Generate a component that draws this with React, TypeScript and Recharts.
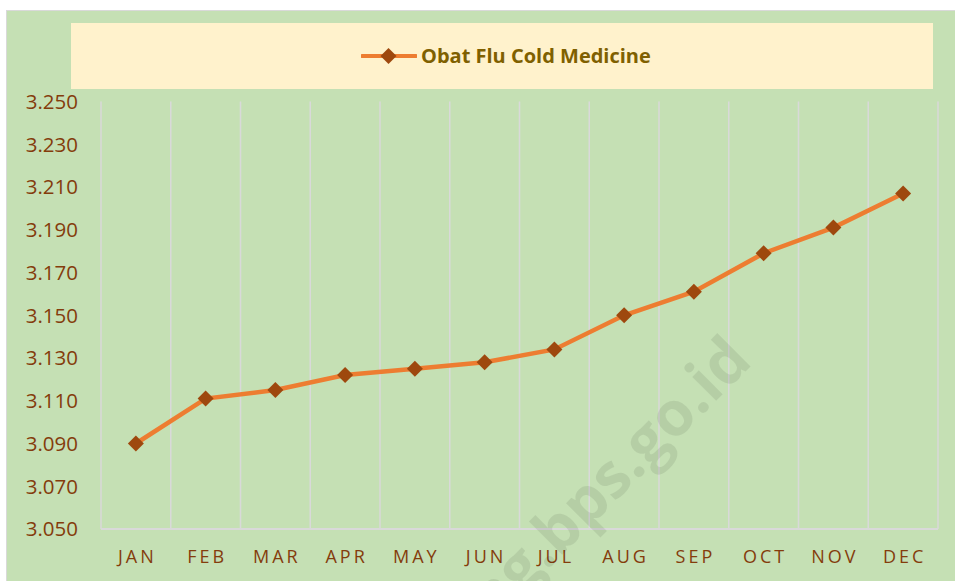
import React from 'react';
import { LineChart, Line, XAxis, YAxis, CartesianGrid, Legend } from 'recharts';

const months = ['JAN', 'FEB', 'MAR', 'APR', 'MAY', 'JUN', 'JUL', 'AUG', 'SEP', 'OCT', 'NOV', 'DEC'];
const fluCold = [3090, 3111, 3115, 3122, 3125, 3128, 3134, 3150, 3161, 3179, 3191, 3207];
const yTicks = [3050, 3070, 3090, 3110, 3130, 3150, 3170, 3190, 3210, 3230, 3250];
const seriesName = 'Obat Flu Cold Medicine';

const data = months.map((m, i) => ({ month: m, value: fluCold[i] }));

const FONT = '"Open Sans", "Liberation Sans", sans-serif';
const TEXT_COLOR = '#843c0c';
const LINE_COLOR = '#ed7d31';
const MARKER_COLOR = '#9e480e';
const GRID_COLOR = '#d9d9d9';

const Diamond = (props: any) => {
  const { cx, cy, index } = props;
  if (cx == null || cy == null) return null;
  const r = 8;
  return (
    <polygon
      key={`d-${index}`}
      points={`${cx},${cy - r} ${cx + r},${cy} ${cx},${cy + r} ${cx - r},${cy}`}
      fill={MARKER_COLOR}
      stroke="none"
    />
  );
};

const XTick = (props: any) => {
  const { x, y, payload } = props;
  return (
    <text
      x={x}
      y={y + 34}
      dx={1.5}
      textAnchor="middle"
      fill={TEXT_COLOR}
      fontSize={18}
      fontFamily={FONT}
      letterSpacing={3}
    >
      {payload.value}
    </text>
  );
};

const renderLegend = () => (
  <div
    style={{
      width: 862,
      height: 66,
      background: '#fff2cc',
      display: 'flex',
      alignItems: 'center',
      paddingLeft: 290,
      boxSizing: 'border-box',
    }}
  >
    <svg width={56} height={18} style={{ display: 'block' }}>
      <line x1={1} y1={9} x2={55} y2={9} stroke={LINE_COLOR} strokeWidth={4} strokeLinecap="round" />
      <polygon points="27.5,1 35.5,9 27.5,17 19.5,9" fill={MARKER_COLOR} />
    </svg>
    <span
      style={{
        marginLeft: 4,
        fontFamily: FONT,
        fontWeight: 700,
        fontSize: 20,
        color: '#7f6000',
        whiteSpace: 'nowrap',
        lineHeight: 1,
      }}
    >
      {seriesName}
    </span>
  </div>
);

export default function App() {
  const W = 948;
  const H = 570;
  const plotW = W - 94 - 17;
  const pad = plotW / months.length / 2;
  return (
    <div
      style={{
        position: 'absolute',
        left: 6,
        top: 10,
        width: W,
        height: H,
        background: '#c5e0b4',
        borderTop: '1px solid #d9d9d9',
        borderLeft: '1px solid #d9d9d9',
        overflow: 'hidden',
      }}
    >
      <LineChart
        width={W}
        height={H}
        data={data}
        margin={{ top: 24.5, right: 17, left: 0, bottom: 22 }}
      >
        <CartesianGrid
          horizontal={false}
          stroke={GRID_COLOR}
          strokeWidth={1.5}
          verticalCoordinatesGenerator={({ offset }: any) =>
            months.map((_, i) => offset.left + (i * offset.width) / months.length).concat([offset.left + offset.width])
          }
        />
        <XAxis
          dataKey="month"
          axisLine={{ stroke: GRID_COLOR, strokeWidth: 2 }}
          tickLine={false}
          tickSize={0}
          tickMargin={0}
          height={30}
          padding={{ left: pad, right: pad }}
          tick={<XTick />}
          interval={0}
        />
        <YAxis
          width={94}
          domain={[3050, 3250]}
          ticks={yTicks}
          allowDataOverflow
          axisLine={false}
          tickLine={false}
          tickSize={0}
          tickMargin={23}
          tick={{ fill: TEXT_COLOR, fontSize: 20.5, fontFamily: FONT }}
          tickFormatter={(v: number) => (v / 1000).toFixed(3)}
        />
        <Legend
          verticalAlign="top"
          content={renderLegend}
          wrapperStyle={{ position: 'absolute', top: 12, left: 64, width: 862, height: 66 }}
        />
        <Line
          type="linear"
          dataKey="value"
          name={seriesName}
          stroke={LINE_COLOR}
          strokeWidth={4.5}
          dot={<Diamond />}
          activeDot={false}
          isAnimationActive={false}
        />
      </LineChart>
      <svg
        width={W}
        height={H}
        style={{ position: 'absolute', left: 0, top: 0, pointerEvents: 'none' }}
      >
        <text
          x={747}
          y={352}
          textAnchor="end"
          transform="rotate(-45 747 352)"
          fontFamily={FONT}
          fontWeight={700}
          fontSize={62}
          fill="#000000"
          fillOpacity={0.08}
        >
          jateng.bps.go.id
        </text>
      </svg>
    </div>
  );
}
